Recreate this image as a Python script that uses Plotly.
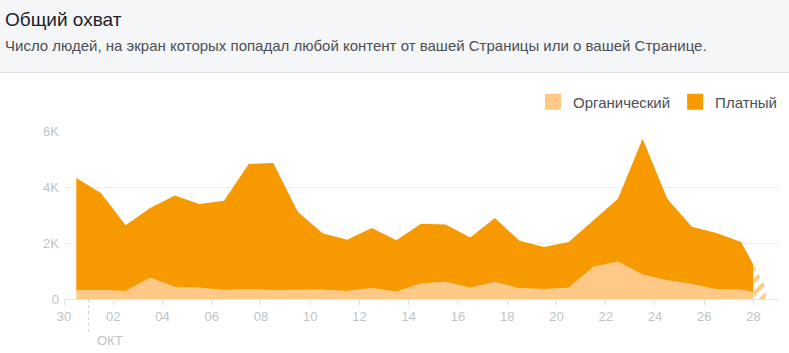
import numpy as np
import pandas as pd
import plotly.graph_objects as go

# ---- data ----
dates = ["2019-09-30", "2019-10-01", "2019-10-02", "2019-10-03", "2019-10-04",
         "2019-10-05", "2019-10-06", "2019-10-07", "2019-10-08", "2019-10-09",
         "2019-10-10", "2019-10-11", "2019-10-12", "2019-10-13", "2019-10-14",
         "2019-10-15", "2019-10-16", "2019-10-17", "2019-10-18", "2019-10-19",
         "2019-10-20", "2019-10-21", "2019-10-22", "2019-10-23", "2019-10-24",
         "2019-10-25", "2019-10-26", "2019-10-27", "2019-10-28"]
organic = [310, 320, 290, 760, 440, 400, 320, 350, 320, 320,
           330, 290, 390, 270, 550, 620, 400, 610, 380, 360,
           400, 1150, 1340, 870, 670, 540, 350, 330, 150]
paid = [4010, 3470, 2340, 2490, 3260, 2990, 3190, 4470, 4540, 2790,
        2020, 1830, 2150, 1830, 2140, 2040, 1800, 2280, 1700, 1500,
        1640, 1660, 2240, 4850, 2910, 2040, 2010, 1710, 250]
series_names = ["Органический", "Платный"]
x_tick_dates = ["2019-09-30", "2019-10-02", "2019-10-04", "2019-10-06", "2019-10-08",
                "2019-10-10", "2019-10-12", "2019-10-14", "2019-10-16", "2019-10-18",
                "2019-10-20", "2019-10-22", "2019-10-24", "2019-10-26", "2019-10-28"]
x_tick_labels = ["30", "02", "04", "06", "08", "10", "12", "14", "16", "18",
                 "20", "22", "24", "26", "28"]
y_tick_vals = [0, 2000, 4000, 6000]
y_tick_labels = ["0", "2K", "4K", "6K"]
month_label = "ОКТ"
month_start = "2019-10-01"
title = "Общий охват"
subtitle = "Число людей, на экран которых попадал любой контент от вашей Страницы или о вашей Странице."

# ---- styling ----
C_ORG = "#fec887"
C_PAID = "#f79900"
C_TICK = "#bec3c9"
W, H = 789, 353
ML, MR, MT, MB = 64, 6, 131, 54
PW, PH = W - ML - MR, H - MT - MB


def px_x(p):
    return (p - ML) / PW


def px_y(p):
    return (H - MB - p) / PH


# points are placed at the middle of each day
xs = pd.to_datetime(dates) + pd.Timedelta(hours=12)
cutoff = pd.to_datetime(dates[-1])  # "now": the last day is incomplete
tnum = xs.astype("int64").to_numpy()
cnum = cutoff.value
org_arr = np.array(organic, dtype=float)
paid_arr = np.array(paid, dtype=float)
tot_arr = org_arr + paid_arr
org_cut = float(np.interp(cnum, tnum, org_arr))
paid_cut = float(np.interp(cnum, tnum, paid_arr))
tot_cut = org_cut + paid_cut

x_solid = list(xs[:-1]) + [cutoff]
fig = go.Figure()
fig.add_trace(go.Scatter(
    x=x_solid, y=list(org_arr[:-1]) + [org_cut], stackgroup="s",
    mode="lines", line=dict(width=0, color=C_ORG), fillcolor=C_ORG,
    name=series_names[0], showlegend=False, hoverinfo="skip"))
fig.add_trace(go.Scatter(
    x=x_solid, y=list(paid_arr[:-1]) + [paid_cut], stackgroup="s",
    mode="lines", line=dict(width=0, color=C_PAID), fillcolor=C_PAID,
    name=series_names[1], showlegend=False, hoverinfo="skip"))
# incomplete last day, hatched
fig.add_trace(go.Scatter(
    x=[cutoff, xs[-1]], y=[tot_cut, tot_arr[-1]], mode="lines",
    line=dict(width=0, color=C_PAID), fill="tozeroy", fillcolor="rgba(0,0,0,0)",
    fillpattern=dict(shape="/", fgcolor=C_PAID, bgcolor="white", size=9, solidity=0.45),
    showlegend=False, hoverinfo="skip"))
# legend entries
for nm, c in zip(series_names, [C_ORG, C_PAID]):
    fig.add_trace(go.Scatter(x=[None], y=[None], mode="markers", name=nm,
                             marker=dict(symbol="square", size=16, color=c)))

x0 = pd.to_datetime(dates[0])
x1 = x0 + pd.Timedelta(days=PW / 24.76)

shapes = [
    dict(type="rect", xref="paper", yref="paper", x0=-0.2, x1=1.2,
         y0=px_y(72), y1=px_y(-10), fillcolor="#f5f6f7", line=dict(width=0), layer="below"),
    dict(type="line", xref="paper", yref="paper", x0=-0.2, x1=1.2,
         y0=px_y(72.5), y1=px_y(72.5), line=dict(color="#dddfe2", width=1)),
    dict(type="line", xref="x", yref="paper", x0=month_start, x1=month_start,
         y0=0, y1=px_y(334), line=dict(color="#ccd0d5", width=1, dash="3px,3px")),
]
annotations = [
    dict(text=title, xref="paper", yref="paper", x=px_x(3), y=px_y(20),
         xanchor="left", yanchor="middle", showarrow=False,
         font=dict(size=19, color="#1d2129")),
    dict(text=subtitle, xref="paper", yref="paper", x=px_x(3), y=px_y(45),
         xanchor="left", yanchor="middle", showarrow=False,
         font=dict(size=15, color="#4b4f56")),
    dict(text=month_label, xref="x", yref="paper", x=month_start, y=px_y(340),
         xanchor="left", yanchor="middle", xshift=6, showarrow=False,
         font=dict(size=13, color=C_TICK)),
]

fig.update_layout(
    width=W, height=H, margin=dict(l=ML, r=MR, t=MT, b=MB),
    paper_bgcolor="white", plot_bgcolor="white",
    font=dict(family="Liberation Sans, Arial, sans-serif", color="#4b4f56"),
    showlegend=True,
    legend=dict(orientation="h", x=px_x(787), xanchor="right", y=px_y(102), yanchor="middle",
                traceorder="normal",
                font=dict(size=15, color="#4b4f56"), bgcolor="rgba(0,0,0,0)",
                itemclick=False, itemdoubleclick=False),
    shapes=shapes, annotations=annotations,
    xaxis=dict(type="date", range=[x0, x1], tickvals=pd.to_datetime(x_tick_dates),
               ticktext=x_tick_labels, ticks="outside", ticklen=5, tickcolor="#dddfe2",
               showgrid=False, showline=True, linecolor="#e4e6e9", zeroline=False,
               tickfont=dict(size=13, color=C_TICK), fixedrange=True),
    yaxis=dict(range=[0, 6000], tickvals=y_tick_vals, ticktext=y_tick_labels,
               showgrid=True, gridcolor="rgba(0,0,0,0.06)", zeroline=False,
               showline=False, ticks="", tickfont=dict(size=13, color=C_TICK),
               layer="above traces", ticklabelstandoff=4, fixedrange=True),
)

fig.write_html("out.html", config={"displayModeBar": False})
